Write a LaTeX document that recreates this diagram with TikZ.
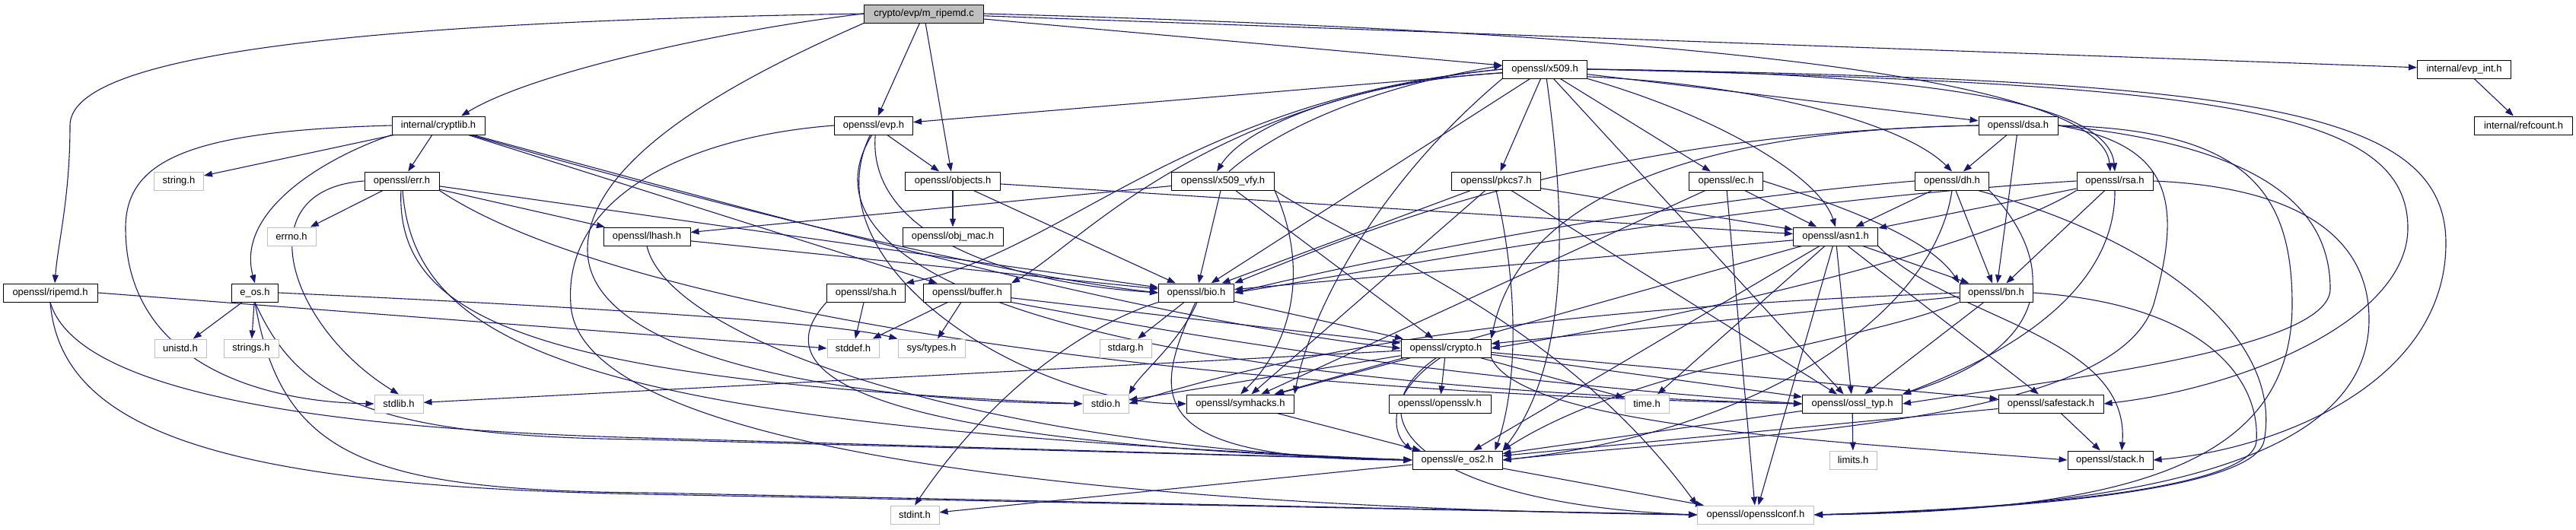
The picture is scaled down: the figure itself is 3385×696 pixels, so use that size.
\documentclass[tikz,border=0pt]{standalone}
\usepackage{fontspec}
\setmainfont{Liberation Sans}
\usetikzlibrary{arrows.meta}
\definecolor{edgec}{HTML}{191970}
\definecolor{grayb}{HTML}{BFBFBF}
\pgfdeclarelayer{bg}
\pgfsetlayers{bg,main}
\begin{document}
\begin{tikzpicture}[x=1pt,y=-1pt,
  nd/.style={draw=black, line width=1pt, fill=white, minimum height=24pt, inner sep=0pt, font=\fontsize{13}{15}\selectfont},
  sys/.style={nd, draw=grayb},
  root/.style={nd, fill=grayb},
  e/.style={draw=edgec, line width=1.1pt, -{Triangle[length=11pt,width=8pt]}}]
\useasboundingbox (0,0) rectangle (3385,696);
\node[root, minimum width=157pt] (R) at (1214,18) {crypto/evp/m\_ripemd.c};
\node[nd, minimum width=123pt] (evpint) at (3238,91) {internal/evp\_int.h};
\node[nd, minimum width=111pt] (x509) at (2030,91) {openssl/x509.h};
\node[nd, minimum width=122pt] (cryptlib) at (576,165) {internal/cryptlib.h};
\node[nd, minimum width=103pt] (evp) at (1148,165) {openssl/evp.h};
\node[nd, minimum width=104pt] (dsa) at (2652,165) {openssl/dsa.h};
\node[nd, minimum width=129pt] (refcount) at (3316,165) {internal/refcount.h};
\node[sys, minimum width=65pt] (string) at (235,238) {string.h};
\node[nd, minimum width=98pt] (err) at (528,238) {openssl/err.h};
\node[nd, minimum width=125pt] (objects) at (1252,238) {openssl/objects.h};
\node[nd, minimum width=135pt] (x509vfy) at (1607,238) {openssl/x509\_vfy.h};
\node[nd, minimum width=117pt] (pkcs7) at (1966,238) {openssl/pkcs7.h};
\node[nd, minimum width=97pt] (ec) at (2268,238) {openssl/ec.h};
\node[nd, minimum width=97pt] (dh) at (2565,238) {openssl/dh.h};
\node[nd, minimum width=100pt] (rsa) at (2779,238) {openssl/rsa.h};
\node[sys, minimum width=64pt] (errno) at (383,311) {errno.h};
\node[nd, minimum width=114pt] (lhash) at (850,311) {openssl/lhash.h};
\node[nd, minimum width=132pt] (objmac) at (1252,311) {openssl/obj\_mac.h};
\node[nd, minimum width=111pt] (asn1) at (2412,311) {openssl/asn1.h};
\node[nd, minimum width=124pt] (ripemd) at (66,385) {openssl/ripemd.h};
\node[nd, minimum width=61pt] (eos) at (335,385) {e\_os.h};
\node[nd, minimum width=103pt] (sha) at (1138,385) {openssl/sha.h};
\node[nd, minimum width=115pt] (buffer) at (1271,385) {openssl/buffer.h};
\node[nd, minimum width=99pt] (bio) at (1572,385) {openssl/bio.h};
\node[nd, minimum width=96pt] (bn) at (2623,385) {openssl/bn.h};
\node[sys, minimum width=68pt] (unistd) at (237,458) {unistd.h};
\node[sys, minimum width=72pt] (strings) at (330,458) {strings.h};
\node[sys, minimum width=68pt] (stddef) at (1121,458) {stddef.h};
\node[sys, minimum width=88pt] (systypes) at (1224,458) {sys/types.h};
\node[sys, minimum width=68pt] (stdarg) at (1479,458) {stdarg.h};
\node[nd, minimum width=118pt] (crypto) at (1900,458) {openssl/crypto.h};
\node[sys, minimum width=64pt] (stdlib) at (524,531) {stdlib.h};
\node[sys, minimum width=60pt] (stdio) at (1453,531) {stdio.h};
\node[nd, minimum width=141pt] (symhacks) at (1630,531) {openssl/symhacks.h};
\node[nd, minimum width=134pt] (opensslv) at (1892,531) {openssl/opensslv.h};
\node[sys, minimum width=58pt] (time) at (2164,531) {time.h};
\node[nd, minimum width=131pt] (ossltyp) at (2434,531) {openssl/ossl\_typ.h};
\node[nd, minimum width=138pt] (safestack) at (2695,531) {openssl/safestack.h};
\node[nd, minimum width=118pt] (eos2) at (1915,605) {openssl/e\_os2.h};
\node[sys, minimum width=62pt] (limits) at (2435,605) {limits.h};
\node[nd, minimum width=112pt] (stack) at (2773,605) {openssl/stack.h};
\node[sys, minimum width=64pt] (stdint) at (1202,677) {stdint.h};
\node[sys, minimum width=153pt] (conf) at (2307,677) {openssl/opensslconf.h};
\begin{pgfonlayer}{bg}
% m_ripemd.c
\draw[e] (R.south west) .. controls (1000,90) and (770,200) .. (772,330) .. controls (775,480) and (1150,528) .. (stdio.west);
\draw[e] (R.west) .. controls (950,40) and (700,95) .. ([xshift=30pt]cryptlib.north);
\draw[e] (R.west) .. controls (400,30) and (92,80) .. (92,165) .. controls (92,260) and (76,320) .. ([xshift=6pt]ripemd.north);
\draw[e] (R) -- (evp);
\draw[e] (R) -- (objects);
\draw[e] (R) -- (x509);
\draw[e] (R.east) .. controls (2100,40) and (2760,90) .. ([xshift=-6pt]rsa.north);
\draw[e] (R) -- (evpint);
\draw[e] (evpint) -- (refcount);
% cryptlib
\draw[e] (cryptlib) -- (string);
\draw[e] (cryptlib) -- (err);
\draw[e] (cryptlib.west) .. controls (250,172) and (165,210) .. (165,300) .. controls (165,470) and (330,528) .. (stdlib.west);
\draw[e] (cryptlib.south west) .. controls (420,210) and (310,280) .. (eos.north);
\draw[e] (cryptlib) .. controls (1000,280) and (1500,420) .. (crypto.west);
\draw[e] (cryptlib) -- (buffer);
\draw[e] (cryptlib) .. controls (900,260) and (1300,360) .. (bio.west);
% e_os
\draw[e] (eos) -- (unistd);
\draw[e] (eos) -- (strings);
\draw[e] (eos.east) .. controls (800,405) and (1100,425) .. (systypes.north west);
\draw[e] (eos.south) .. controls (390,520) and (480,575) .. (850,578) -- (eos2.west);
\draw[e] (eos.south) .. controls (370,600) and (480,645) .. (850,648) -- (conf.west);
% ripemd
\draw[e] (ripemd.east) -- (stddef.west);
\draw[e] (ripemd.south) .. controls (90,480) and (260,560) .. (850,576) -- (eos2.west);
\draw[e] (ripemd.south) .. controls (80,570) and (300,640) .. (850,650) -- (conf.west);
% err
\draw[e] (err) -- (errno);
\draw[e] (err) -- (lhash);
\draw[e] (err.west) .. controls (320,250) and (380,430) .. (stdlib.north);
\draw[e] (err.-95) .. controls (520,420) and (700,500) .. (stdio.west);
\draw[e] (err.-85) .. controls (545,470) and (800,560) .. (eos2.west);
\draw[e] (err.south east) .. controls (800,400) and (1500,515) .. (ossltyp.west);
\draw[e] (err) -- (bio);
% lhash
\draw[e] (lhash) -- (bio);
\draw[e] (lhash.south) .. controls (880,450) and (1300,590) .. (eos2.west);
% evp
\draw[e] (evp) -- (objects);
\draw[e] (evp.-80) .. controls (1140,300) and (1300,370) .. (bio.west);
\draw[e] (evp.west) .. controls (900,180) and (740,260) .. (750,400) .. controls (760,600) and (1500,668) .. (conf.west);
\draw[e] (evp.-100) .. controls (1050,330) and (1300,500) .. (ossltyp.west);
\draw[e] (evp.-110) .. controls (1060,350) and (1350,530) .. (symhacks.west);
% objects
\draw[e] (objects) -- (objmac);
\draw[e] (objects) -- (bio);
\draw[e] (objects) -- (asn1);
% x509
\draw[e] (x509) -- (evp);
\draw[e] (x509.185) .. controls (1800,105) and (1640,160) .. ([xshift=-8pt]x509vfy.north);
\draw[e] ([xshift=8pt]x509vfy.north) .. controls (1690,160) and (1820,112) .. (x509.175);
\draw[e] (x509) -- (pkcs7);
\draw[e] (x509) -- (bio);
\draw[e] (x509.west) .. controls (1560,130) and (1400,330) .. (sha.north east);
\draw[e] (x509.west) .. controls (1580,130) and (1420,320) .. (buffer.north east);
\draw[e] (x509.south west) .. controls (1800,250) and (1720,420) .. (symhacks.north east);
\draw[e] (x509.-80) .. controls (2060,300) and (2060,480) .. (eos2.north east);
\draw[e] (x509) -- (ec);
\draw[e] (x509.south east) .. controls (2250,150) and (2390,230) .. (asn1.north);
\draw[e] (x509.-10) .. controls (2300,110) and (2500,160) .. (dh.north);
\draw[e] (x509) -- (dsa);
\draw[e] (x509.east) .. controls (2500,95) and (2770,130) .. (rsa.north);
\draw[e] (x509) -- (ossltyp);
\draw[e] (x509.east) .. controls (2900,110) and (3164,140) .. (3164,300) .. controls (3164,420) and (2950,510) .. (safestack.east);
\draw[e] (x509.east) .. controls (2950,105) and (3214,140) .. (3214,320) .. controls (3214,500) and (3000,590) .. (stack.east);
% x509_vfy
\draw[e] (x509vfy) -- (lhash);
\draw[e] (x509vfy) -- (bio);
\draw[e] (x509vfy) -- (crypto);
\draw[e] (x509vfy.south east) .. controls (1720,350) and (1700,450) .. (symhacks.north);
\draw[e] (x509vfy.south east) .. controls (1800,330) and (2050,420) .. (conf.north west);
% pkcs7
\draw[e] (pkcs7) -- (asn1);
\draw[e] (pkcs7) -- (bio);
\draw[e] (pkcs7.south) .. controls (2000,400) and (1990,520) .. ([xshift=-10pt]eos2.north east);
\draw[e] (pkcs7) -- (symhacks);
\draw[e] (pkcs7) -- (ossltyp);
% ec
\draw[e] (ec) -- (conf);
\draw[e] (ec) -- (asn1);
\draw[e] (ec) -- (symhacks);
\draw[e] (ec.east) .. controls (2450,280) and (2540,320) .. (bn.north west);
% dsa
\draw[e] (dsa) -- (dh);
\draw[e] (dsa) -- (bn);
\draw[e] (dsa.west) .. controls (2100,175) and (1800,300) .. (bio.north east);
\draw[e] (dsa.west) .. controls (2250,170) and (2000,250) .. (crypto.north east);
\draw[e] (dsa.east) .. controls (2950,170) and (3012,250) .. (3012,400) .. controls (3012,610) and (2800,672) .. (conf.east);
\draw[e] (dsa.east) .. controls (2950,190) and (3062,260) .. (3062,380) .. controls (3062,460) and (2700,500) .. (ossltyp.east);
\draw[e] (dsa.east) .. controls (2850,190) and (2870,260) .. (2830,400) .. controls (2780,560) and (2300,570) .. (eos2.east);
% dh
\draw[e] (dh) -- (asn1);
\draw[e] (dh) -- (bn);
\draw[e] (dh.west) .. controls (2200,265) and (1850,330) .. (bio.east);
\draw[e] (dh.south east) .. controls (2690,330) and (2720,450) .. (ossltyp.north east);
\draw[e] (dh.south) .. controls (2540,420) and (2300,570) .. (eos2.east);
\draw[e] (dh.-20) .. controls (2850,320) and (3000,450) .. (2975,580) .. controls (2960,650) and (2600,672) .. (conf.east);
% rsa
\draw[e] (rsa) -- (asn1);
\draw[e] (rsa.west) .. controls (2300,265) and (1900,340) .. (bio.east);
\draw[e] (rsa.south west) .. controls (2600,330) and (2200,420) .. (crypto.east);
\draw[e] (rsa.south) .. controls (2780,400) and (2600,480) .. (ossltyp.north east);
\draw[e] (rsa) -- (bn);
\draw[e] (rsa.east) .. controls (3000,245) and (3113,300) .. (3113,420) .. controls (3113,610) and (2800,668) .. (conf.east);
% asn1
\draw[e] (asn1) -- (time);
\draw[e] (asn1) -- (eos2);
\draw[e] (asn1) -- (conf);
\draw[e] (asn1) -- (bio);
\draw[e] (asn1.south east) .. controls (2560,420) and (2800,440) .. ([xshift=15pt]stack.north);
\draw[e] (asn1) -- (safestack);
\draw[e] (asn1) -- (symhacks);
\draw[e] (asn1) -- (ossltyp);
\draw[e] (asn1) -- (bn);
% bio
\draw[e] (bio) -- (stdarg);
\draw[e] (bio.-85) .. controls (1550,450) and (1500,490) .. (stdio.north east);
\draw[e] (bio) -- (crypto);
\draw[e] (bio.south west) .. controls (1420,430) and (1300,520) .. (stdint.north);
\draw[e] (bio.-95) .. controls (1515,520) and (1495,605) .. (eos2.west);
% sha
\draw[e] (sha) -- (stddef);
\draw[e] (sha.south west) .. controls (1020,470) and (1040,580) .. (eos2.west);
% buffer
\draw[e] (buffer) -- (stddef);
\draw[e] (buffer) -- (systypes);
\draw[e] (buffer) -- (crypto);
\draw[e] (buffer.south east) .. controls (1450,420) and (1800,490) .. (ossltyp.west);
% bn
\draw[e] (bn.south west) .. controls (2450,450) and (2150,480) .. (eos2.north east);
\draw[e] (bn.west) .. controls (2200,400) and (1800,430) .. (stdio.east);
\draw[e] (bn) -- (crypto);
\draw[e] (bn) -- (ossltyp);
\draw[e] (bn.east) .. controls (2900,400) and (2970,500) .. (2965,580) .. controls (2960,650) and (2600,670) .. (conf.east);
% crypto
\draw[e] (crypto) -- (opensslv);
\draw[e] (crypto) -- (time);
\draw[e] (crypto) -- (ossltyp);
\draw[e] (crypto) -- (safestack);
\draw[e] (crypto.south east) .. controls (2000,560) and (2400,580) .. (stack.west);
\draw[e] (crypto.-120) .. controls (1820,520) and (1830,570) .. (eos2.north west);
\draw[e] (crypto.-135) .. controls (1760,560) and (1900,665) .. (conf.west);
\draw[e] (crypto) -- (stdio);
\draw[e] (crypto) -- (stdlib);
\draw[e] (crypto) -- (symhacks);
% leaves
\draw[e] (symhacks) -- (eos2);
\draw[e] (ossltyp) -- (eos2);
\draw[e] (ossltyp) -- (limits);
\draw[e] (safestack) -- (stack);
\draw[e] (safestack) -- (eos2);
\draw[e] (eos2) -- (conf);
\draw[e] (eos2) -- (stdint);
\end{pgfonlayer}
\end{tikzpicture}
\end{document}
